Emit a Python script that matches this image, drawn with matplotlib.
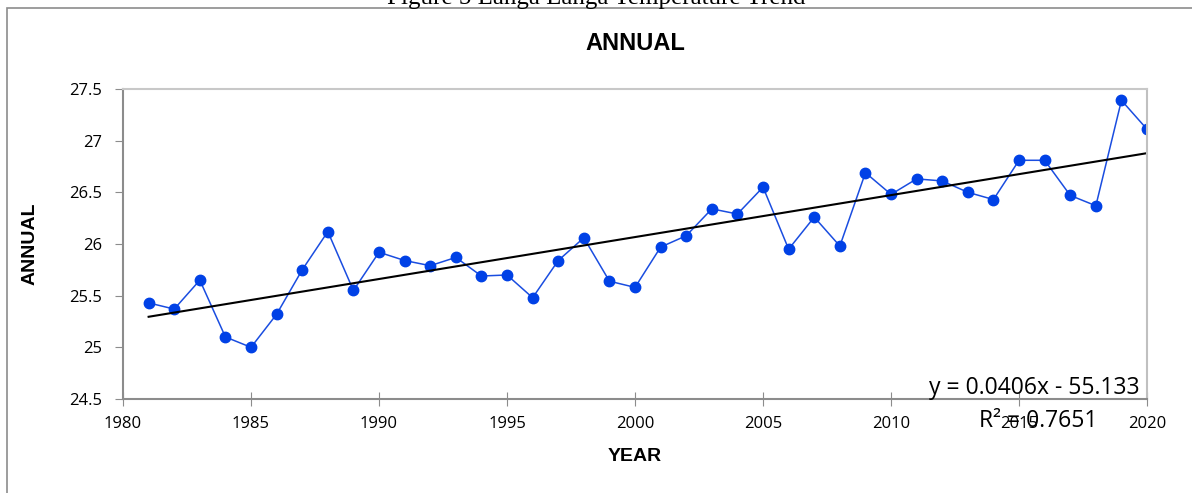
import numpy as np
import matplotlib.pyplot as plt
from matplotlib.patches import Rectangle
from matplotlib.ticker import FuncFormatter

years = list(range(1981, 2021))
annual = [25.43, 25.37, 25.65, 25.10, 25.00, 25.32, 25.75, 26.12, 25.55, 25.92,
          25.84, 25.79, 25.87, 25.69, 25.70, 25.48, 25.84, 26.06, 25.64, 25.58,
          25.97, 26.08, 26.34, 26.29, 26.55, 25.95, 26.26, 25.98, 26.69, 26.48,
          26.63, 26.61, 26.50, 26.43, 26.81, 26.81, 26.47, 26.37, 27.39, 27.11]
slope = 0.0406
intercept = -55.133
r2 = 0.7651

fig = plt.figure(figsize=(11.92, 4.93), dpi=100)
ax = fig.add_axes([0.1032, 0.1907, 0.8591, 0.6288])

# caption above the chart box (mostly runs off the page)
fig.text(0.5, 1 - 4 / 493, "Figure 5 Langa Langa Temperature Trend",
         ha="center", va="baseline", fontsize=18, family="Liberation Serif")
fig.patches.append(Rectangle((7 / 1192, -0.1), 1.2, 1 - 8 / 493 + 0.1,
                             transform=fig.transFigure, fill=False,
                             edgecolor="#8c8c8c", linewidth=1.2))

ax.plot(years, annual, color="#1a4de0", linewidth=1.1, marker="o",
        markersize=7.5, markerfacecolor="#0041e6", markeredgecolor="#0041e6")

xs = np.array([years[0], years[-1]])
ax.plot(xs, slope * xs + intercept, color="black", linewidth=1.5)

ax.set_xlim(1980, 2020)
ax.set_ylim(24.5, 27.5)
ax.set_xticks(range(1980, 2021, 5))
ax.set_yticks(np.arange(24.5, 27.51, 0.5))
ax.yaxis.set_major_formatter(FuncFormatter(lambda v, p: "%g" % v))

for lab in ax.get_xticklabels() + ax.get_yticklabels():
    lab.set_family("Open Sans")
    lab.set_fontsize(12)
ax.tick_params(axis="x", direction="inout", length=10, color="#8c8c8c", pad=7)
ax.tick_params(axis="y", direction="out", length=6, color="#8c8c8c", pad=9)

ax.spines["left"].set_color("#8c8c8c")
ax.spines["bottom"].set_color("#8c8c8c")
ax.spines["top"].set_color("#c8c8c8")
ax.spines["right"].set_color("#c0c0c0")
for s in ax.spines.values():
    s.set_linewidth(1.5)

ax.set_title("ANNUAL", fontsize=17, fontweight="bold", family="Liberation Sans", pad=28)
ax.set_xlabel("YEAR", fontsize=14, fontweight="bold", family="Liberation Sans")
ax.set_ylabel("ANNUAL", fontsize=14, fontweight="bold", family="Liberation Sans")
ax.xaxis.set_label_coords(0.5, -0.158)
ax.yaxis.set_label_coords(-0.083, 0.5)

# trendline equation, placed like a spreadsheet trendline label
ax.text(0.993, 0.015, "y = %.4fx - %.3f" % (slope, -intercept), transform=ax.transAxes,
        ha="right", va="baseline", fontsize=16.5, family="Open Sans")
ax.text(0.951, -0.09, "R² = %.4f" % r2, transform=ax.transAxes,
        ha="right", va="baseline", fontsize=16.5, family="Open Sans")

fig.savefig("out.png", dpi=100)
